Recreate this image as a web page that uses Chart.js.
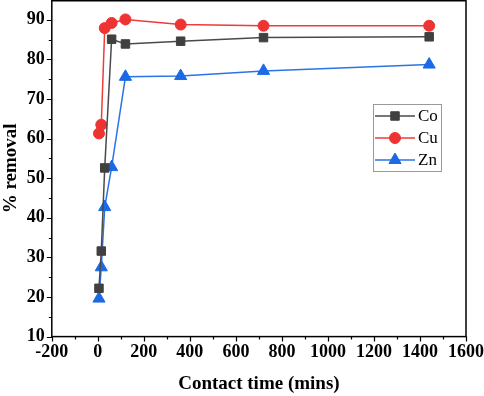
<!DOCTYPE html>
<html>
<head>
<meta charset="utf-8">
<script src="https://cdn.jsdelivr.net/npm/chart.js@4.4.1/dist/chart.umd.min.js"></script>
<style>
  html, body { margin: 0; padding: 0; background: #fff; }
  #wrap { width: 484px; height: 396px; }
</style>
</head>
<body>
<div id="wrap"><canvas id="chart"></canvas></div>
<script>
// contact time (mins)
var tiempos = [5, 15, 30, 60, 120, 360, 720, 1440];
// % removal
var co = [22.2, 31.6, 52.6, 85.1, 83.9, 84.6, 85.5, 85.7];
var cu = [61.3, 63.5, 87.9, 89.2, 90.1, 88.8, 88.5, 88.5];
var zn = [19.6, 27.5, 42.7, 52.8, 75.6, 75.8, 77.1, 78.7];

var etiquetas = ['Co', 'Cu', 'Zn'];
var colori = ['#404040', '#ee3333', '#1a6ae6'];
var lineas = ['#4a4a4a', '#ee3b3b', '#2a74e6'];

function puntos(valori) {
  var out = [];
  for (var i = 0; i < tiempos.length; i++) {
    out.push({ x: tiempos[i], y: valori[i] });
  }
  return out;
}

var fuente = '"Liberation Serif", "Times New Roman", serif';
Chart.defaults.font.family = fuente;
Chart.defaults.font.size = 18;
Chart.defaults.font.weight = 'bold';
Chart.defaults.color = '#000';

// marco + tacche + legenda
var extra = {
  id: 'extra',
  afterDraw: function (chart) {
    var ctx = chart.ctx;
    var a = chart.chartArea;
    var sx = chart.scales.x, sy = chart.scales.y;
    ctx.save();
    ctx.strokeStyle = '#000';
    ctx.lineWidth = 1.5;
    ctx.strokeRect(a.left, a.top + 0.75, a.right - a.left, a.bottom - a.top - 0.75);

    ctx.lineWidth = 1.2;
    ctx.beginPath();
    for (var v = -200; v <= 1600; v += 100) {
      var px = Math.round(sx.getPixelForValue(v)) + 0.5;
      var lx = (v % 200 === 0) ? 5 : 3;
      ctx.moveTo(px, a.bottom);
      ctx.lineTo(px, a.bottom + lx);
    }
    for (var w = 10; w < 95; w += 5) {
      var py = Math.round(sy.getPixelForValue(w)) + 0.5;
      var ly = (w % 10 === 0) ? 5 : 3;
      ctx.moveTo(a.left, py);
      ctx.lineTo(a.left - ly, py);
    }
    ctx.stroke();

    // legenda
    var bx = 373, by = 104, bw = 68, bh = 67;
    ctx.strokeStyle = '#999';
    ctx.lineWidth = 1;
    ctx.strokeRect(bx + 0.5, by + 0.5, bw, bh);
    ctx.font = '17px ' + fuente;
    ctx.textBaseline = 'middle';
    chart.data.datasets.forEach(function (ds, i) {
      var y = by + 12 + i * 22;
      ctx.strokeStyle = ds.borderColor;
      ctx.lineWidth = 1.5;
      ctx.beginPath();
      ctx.moveTo(bx + 2, y);
      ctx.lineTo(bx + 42, y);
      ctx.stroke();
      ctx.fillStyle = ds.pointBackgroundColor;
      ctx.strokeStyle = ds.pointBackgroundColor;
      ctx.lineWidth = 1;
      Chart.helpers.drawPoint(ctx, {
        pointStyle: ds.pointStyle,
        radius: ds.pointRadius,
        rotation: 0,
        borderWidth: 1
      }, bx + 22, y);
      ctx.fillStyle = '#000';
      ctx.fillText(ds.label, bx + 45, y + 1);
    });
    ctx.restore();
  }
};

var cfg = {
  type: 'scatter',
  data: {
    datasets: [
      { label: etiquetas[0], data: puntos(co), pointStyle: 'rect', pointRadius: 6 },
      { label: etiquetas[1], data: puntos(cu), pointStyle: 'circle', pointRadius: 5.5 },
      { label: etiquetas[2], data: puntos(zn), pointStyle: 'triangle', pointRadius: 7 }
    ].map(function (d, i) {
      d.showLine = true;
      d.borderColor = lineas[i];
      d.borderWidth = 1.5;
      d.pointBackgroundColor = colori[i];
      d.pointBorderColor = colori[i];
      d.pointBorderWidth = 1;
      d.pointHoverRadius = d.pointRadius;
      return d;
    })
  },
  options: {
    responsive: true,
    maintainAspectRatio: false,
    animation: false,
    layout: { autoPadding: false, padding: { top: 0, right: 18, left: 0, bottom: 1 } },
    plugins: { legend: { display: false }, tooltip: { enabled: false } },
    scales: {
      x: {
        type: 'linear',
        min: -200, max: 1600,
        border: { display: false },
        grid: { drawOnChartArea: false, drawTicks: true, tickLength: 5, tickColor: 'rgba(0,0,0,0)' },
        ticks: {
          stepSize: 200,
          maxRotation: 0,
          color: '#000',
          padding: 0,
          callback: function (v) { return String(v); },
          font: { family: fuente, size: 18, weight: 'bold' }
        },
        title: {
          display: true, text: 'Contact time (mins)', color: '#000',
          padding: { top: 9, bottom: 0 },
          font: { family: fuente, size: 19, weight: 'bold' }
        }
      },
      y: {
        min: 10, max: 95,
        border: { display: false },
        grid: { drawOnChartArea: false, drawTicks: true, tickLength: 5, tickColor: 'rgba(0,0,0,0)' },
        afterBuildTicks: function (s) {
          s.ticks = [];
          for (var v = 10; v <= 90; v += 10) s.ticks.push({ value: v });
        },
        afterFit: function (s) { s.paddingTop = 0; },
        ticks: {
          color: '#000',
          padding: 2,
          font: { family: fuente, size: 18, weight: 'bold' }
        },
        title: {
          display: true, text: '% removal', color: '#000',
          padding: { top: 0, bottom: 2 },
          font: { family: fuente, size: 19, weight: 'bold' }
        }
      }
    }
  },
  plugins: [extra]
};

function dibujar() {
  new Chart(document.getElementById('chart'), cfg);
}
if (document.fonts && document.fonts.load) {
  Promise.all([
    document.fonts.load('bold 18px "Liberation Serif"'),
    document.fonts.load('17px "Liberation Serif"')
  ]).then(dibujar, dibujar);
} else {
  dibujar();
}
</script>
</body>
</html>
